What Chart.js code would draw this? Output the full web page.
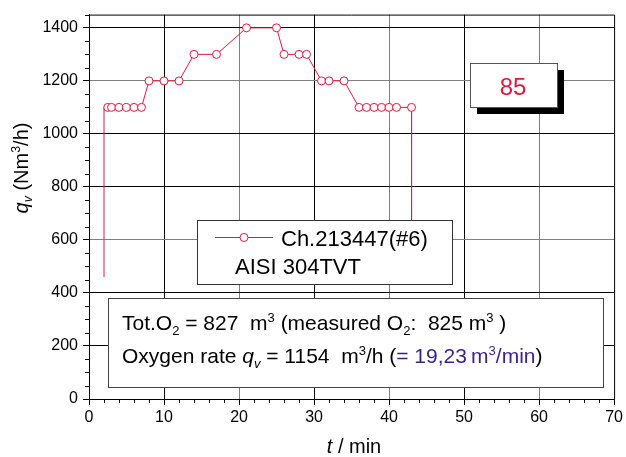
<!DOCTYPE html>
<html lang="en">
<head>
  <meta charset="UTF-8" />
  <title>Oxygen flow</title>
  <script src="https://cdn.jsdelivr.net/npm/chart.js"></script>
  <style>
    body { margin: 0; background: #fff; }
  </style>
</head>
<body>
  <canvas id="flowChart" width="626" height="457"></canvas>

  <script>
    // time in minutes and oxygen flow
    const times = [2, 2, 2.5, 3, 4, 5, 6, 7, 8, 10, 12, 14, 17, 21, 25, 26, 28, 29, 31, 32, 34, 36, 37, 38, 39, 40, 41, 43, 43];
    const flow = [460, 1100, 1100, 1100, 1100, 1100, 1100, 1100, 1200, 1200, 1200, 1300, 1300, 1400, 1400, 1300, 1300, 1300, 1200, 1200, 1200, 1100, 1100, 1100, 1100, 1100, 1100, 1100, 600];
    const markers = [0, 0, 4, 4, 4, 4, 4, 4, 4, 4, 4, 4, 4, 4, 4, 4, 4, 4, 4, 4, 4, 4, 4, 4, 4, 4, 4, 4, 0];
    const xTicks = [0, 10, 20, 30, 40, 50, 60, 70];
    const yTicks = [0, 200, 400, 600, 800, 1000, 1200, 1400];
    const seriesName = 'Ch.213447(#6)';
    const steelGrade = 'AISI 304TVT';
    const heatNo = '85';

    const FONT = "'Liberation Sans', Arial, sans-serif";
    const RED = '#e3173e';
    const PURPLE = '#3b1f8c';

    const darkX = [10, 30, 50];
    const darkY = [200, 400, 800, 1000, 1400];

    // draws a row of text pieces, some italic / sub / sup
    function richText(ctx, parts, x, y, size) {
      let cx = x;
      parts.forEach(p => {
        const small = p.sub || p.sup;
        const fs = small ? size * 0.62 : size;
        ctx.font = (p.italic ? 'italic ' : '') + fs + 'px ' + FONT;
        ctx.fillStyle = p.color || '#000';
        let dy = 0;
        if (p.sub) dy = size * 0.22;
        if (p.sup) dy = -size * 0.38;
        ctx.fillText(p.t, cx, y + dy);
        cx += ctx.measureText(p.t).width;
      });
      return cx - x;
    }

    const overlay = {
      id: 'overlay',
      afterDatasetsDraw(chart) {
        const ctx = chart.ctx;
        const xs = chart.scales.x, ys = chart.scales.y;
        const area = chart.chartArea;
        ctx.save();

        // frame top + right
        ctx.strokeStyle = '#000';
        ctx.lineWidth = 1;
        ctx.beginPath();
        ctx.moveTo(area.left, area.top + 0.5);
        ctx.lineTo(area.right + 0.5, area.top + 0.5);
        ctx.lineTo(area.right + 0.5, area.bottom);
        ctx.stroke();

        // minor ticks
        ctx.beginPath();
        for (let v = 2; v < 70; v += 2) {
          if (v % 10 === 0) continue;
          const px = Math.round(xs.getPixelForValue(v)) + 0.5;
          ctx.moveTo(px, area.bottom);
          ctx.lineTo(px, area.bottom + 4);
        }
        for (let v = 50; v <= 1450; v += 50) {
          if (v % 200 === 0) continue;
          const py = Math.round(ys.getPixelForValue(v)) + 0.5;
          ctx.moveTo(area.left, py);
          ctx.lineTo(area.left - 4, py);
        }
        ctx.stroke();

        ctx.textBaseline = 'alphabetic';
        ctx.textAlign = 'left';

        // heat number box with shadow
        ctx.fillStyle = '#000';
        ctx.fillRect(477, 70, 87, 44);
        ctx.fillStyle = '#fff';
        ctx.fillRect(470, 63, 87, 44);
        ctx.strokeStyle = '#555';
        ctx.strokeRect(470.5, 63.5, 87, 44);
        ctx.fillStyle = RED;
        ctx.font = '24px ' + FONT;
        ctx.textAlign = 'center';
        ctx.fillText(heatNo, 513, 95);
        ctx.textAlign = 'left';

        // legend box
        ctx.fillStyle = '#fff';
        ctx.fillRect(197, 220, 255, 64);
        ctx.strokeStyle = '#333';
        ctx.strokeRect(197.5, 220.5, 255, 64);
        ctx.strokeStyle = RED;
        ctx.beginPath();
        ctx.moveTo(215, 237.5);
        ctx.lineTo(273, 237.5);
        ctx.stroke();
        ctx.fillStyle = '#fff';
        ctx.beginPath();
        ctx.arc(244, 237.5, 4, 0, Math.PI * 2);
        ctx.fill();
        ctx.stroke();
        ctx.fillStyle = '#000';
        ctx.font = '22px ' + FONT;
        ctx.fillText(chart.data.datasets[0].label, 281, 246);
        ctx.fillText(steelGrade, 235, 274);

        // summary box
        ctx.fillStyle = '#fff';
        ctx.fillRect(108, 298, 495, 89);
        ctx.strokeStyle = '#444';
        ctx.strokeRect(108.5, 298.5, 495, 89);
        richText(ctx, [
          { t: 'Tot.O' }, { t: '2', sub: true }, { t: ' = 827  m' }, { t: '3', sup: true },
          { t: ' (measured O' }, { t: '2', sub: true }, { t: ':  825 m' }, { t: '3', sup: true }, { t: ' )' }
        ], 122, 330, 21);
        richText(ctx, [
          { t: 'Oxygen rate ' }, { t: 'q', italic: true }, { t: 'v', italic: true, sub: true },
          { t: ' = 1154  m' }, { t: '3', sup: true }, { t: '/h (' },
          { t: '= 19,23\u2009m', color: PURPLE }, { t: '3', sup: true, color: PURPLE },
          { t: '/min', color: PURPLE }, { t: ')' }
        ], 122, 363, 21);

        // axis titles
        const w = richText(ctx, [{ t: 't', italic: true }, { t: ' / min' }], 0, -1000, 20);
        richText(ctx, [{ t: 't', italic: true }, { t: ' / min' }], 354 - w / 2, 453, 20);

        ctx.translate(28, 168);
        ctx.rotate(-Math.PI / 2);
        const yParts = [
          { t: 'q', italic: true }, { t: 'v', italic: true, sub: true },
          { t: ' (Nm' }, { t: '3', sup: true }, { t: '/h)' }
        ];
        const yw = richText(ctx, yParts, 0, -1000, 20);
        richText(ctx, yParts, -yw / 2, 0, 20);

        ctx.restore();
      }
    };

    const ctx = document.getElementById('flowChart').getContext('2d');
    new Chart(ctx, {
      type: 'line',
      data: {
        datasets: [{
          label: seriesName,
          data: times.map((t, i) => ({ x: t, y: flow[i] })),
          borderColor: RED,
          borderWidth: 1,
          pointRadius: markers,
          pointHoverRadius: markers,
          pointBackgroundColor: '#fff',
          pointBorderColor: RED,
          pointBorderWidth: 1,
          tension: 0,
          fill: false
        }]
      },
      options: {
        responsive: false,
        animation: false,
        events: [],
        layout: { padding: { top: 13, right: 9, left: 0, bottom: 0 } },
        plugins: {
          legend: { display: false },
          tooltip: { enabled: false }
        },
        scales: {
          x: {
            type: 'linear',
            min: 0,
            max: 70,
            afterBuildTicks: s => { s.ticks = xTicks.map(v => ({ value: v })); },
            afterFit: s => { s.height = 58; },
            ticks: {
              color: '#000',
              padding: 3,
              font: { family: FONT, size: 16 },
              maxRotation: 0,
              callback: v => String(v)
            },
            grid: {
              color: c => (c.tick && (c.tick.value === 0 || c.tick.value === 70)) ? 'rgba(0,0,0,0)'
                : (darkX.includes(c.tick && c.tick.value) ? '#000' : '#808080'),
              lineWidth: 1,
              tickColor: '#000',
              tickLength: 6
            },
            border: { color: '#000', width: 1 }
          },
          y: {
            min: 0,
            max: 1450,
            afterBuildTicks: s => { s.ticks = yTicks.map(v => ({ value: v })); },
            afterFit: s => { s.width = 89; },
            ticks: {
              color: '#000',
              padding: 5,
              font: { family: FONT, size: 16 },
              callback: v => String(v)
            },
            grid: {
              color: c => (c.tick && c.tick.value === 0) ? 'rgba(0,0,0,0)'
                : (darkY.includes(c.tick && c.tick.value) ? '#000' : '#808080'),
              lineWidth: 1,
              tickColor: '#000',
              tickLength: 6
            },
            border: { color: '#000', width: 1 }
          }
        }
      },
      plugins: [overlay]
    });
  </script>
</body>
</html>
